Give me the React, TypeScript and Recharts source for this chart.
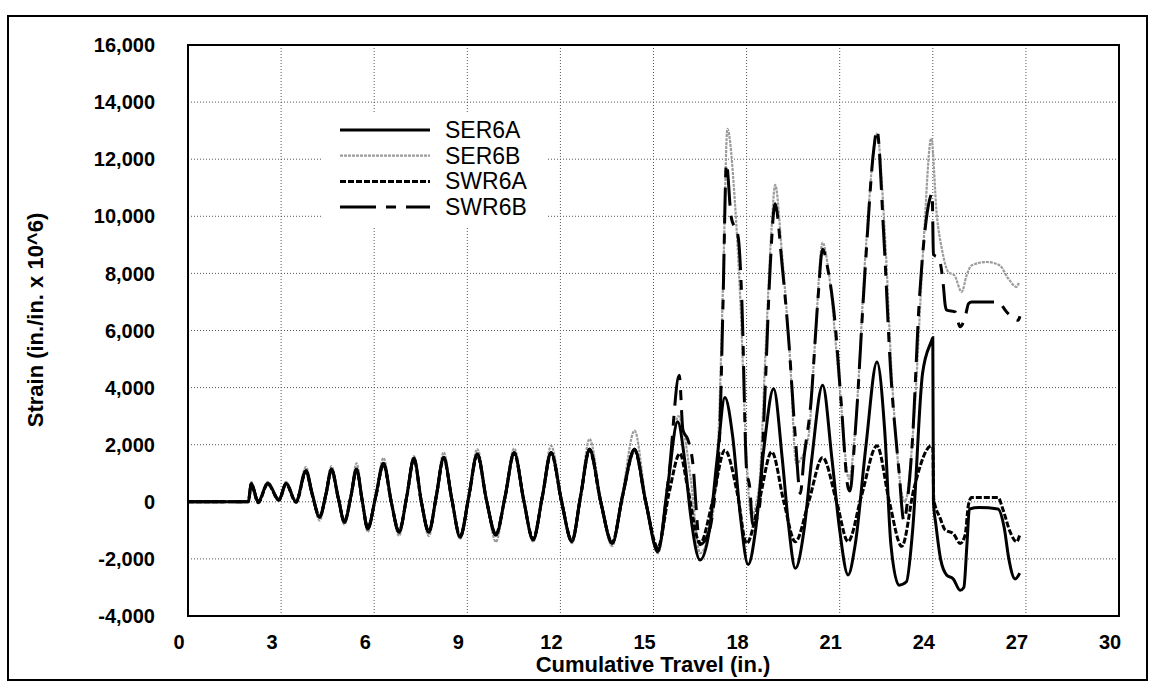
import { LineChart, Line, XAxis, YAxis, CartesianGrid, ReferenceArea } from 'recharts'

const FONT = '"Liberation Sans", Arial, sans-serif'

const xTicks = [0, 3, 6, 9, 12, 15, 18, 21, 24, 27, 30]
const yTicks = [-4000, -2000, 0, 2000, 4000, 6000, 8000, 10000, 12000, 14000, 16000]

// travel positions shared by all gauges up to ~15 in. (peaks, valleys and shoulders)
const earlyX = [
  0, 1.94, 2.04, 2.26, 2.57, 2.93, 3.16, 3.48, 3.8, 4.0,
  4.24, 4.45, 4.62, 4.85, 5.04, 5.25, 5.43, 5.62, 5.79, 6.05,
  6.3, 6.55, 6.8, 7.05, 7.28, 7.52, 7.76, 8.0, 8.24, 8.5,
  8.77, 9.05, 9.32, 9.62, 9.92, 10.22, 10.51, 10.82, 11.12, 11.42,
  11.7, 12.04, 12.37, 12.65, 12.94, 13.3, 13.67, 14.0, 14.39, 14.75,
  15.14,
]

const ser6aEarly = [
  0, 0, 640, 0, 650, 80, 650, 0, 1100, 300,
  -550, 300, 1150, 100, -720, 200, 1150, 0, -950, 200,
  1350, 0, -1070, 200, 1530, 0, -1070, 200, 1560, 100,
  -1240, 200, 1680, 50, -1170, 200, 1730, 50, -1340, 200,
  1730, 0, -1400, 200, 1850, 0, -1460, 200, 1850, 0,
  -1750,
]
const ser6bEarly = [
  0, 0, 700, 50, 700, 100, 700, 50, 1220, 350,
  -660, 350, 1250, 100, -800, 250, 1350, 50, -1050, 250,
  1530, 50, -1190, 250, 1600, 50, -1200, 250, 1730, 100,
  -1300, 250, 1850, 100, -1400, 250, 1870, 100, -1400, 250,
  1960, 100, -1450, 250, 2200, 100, -1550, 300, 2490, 100,
  -1800,
]
const swr6aEarly = [
  0, 0, 600, -30, 620, 50, 620, -20, 1050, 250,
  -500, 280, 1100, 80, -680, 180, 1120, -20, -900, 180,
  1300, -20, -1020, 180, 1480, -20, -1030, 180, 1520, 80,
  -1200, 180, 1640, 30, -1130, 180, 1700, 30, -1300, 180,
  1700, -20, -1360, 180, 1800, -20, -1420, 180, 1800, -20,
  -1600,
]
const swr6bEarly = [
  0, 0, 620, 0, 640, 60, 640, 0, 1080, 280,
  -520, 290, 1130, 90, -700, 190, 1140, 0, -930, 190,
  1330, 0, -1050, 190, 1510, 0, -1050, 190, 1550, 90,
  -1220, 190, 1660, 40, -1150, 190, 1720, 40, -1320, 190,
  1720, 0, -1380, 190, 1830, 0, -1440, 190, 1830, 0,
  -1650,
]

// after 15 in. each gauge goes its own way
const ser6aLateX = [
  15.45, 15.78, 16.0, 16.2, 16.5, 16.8, 17.05, 17.3, 17.55, 17.8,
  18.05, 18.3, 18.55, 18.87, 19.15, 19.35, 19.57, 19.85, 20.1, 20.45,
  20.75, 21.0, 21.27, 21.5, 21.85, 22.2, 22.45, 22.65, 22.91, 23.15,
  23.35, 23.67, 23.95, 24.0, 24.02, 24.1, 24.25, 24.45, 24.66, 24.88,
  25.0, 25.1, 25.18, 25.5, 26.1, 26.3, 26.45, 26.65, 26.75, 26.8,
]
const ser6aLateY = [
  500, 2800, 1500, -500, -2040, -1000, 1500, 3650, 2300, -500,
  -2200, -900, 1800, 3960, 1500, -800, -2330, -1000, 1500, 4080,
  1500, -1000, -2560, -1500, 2000, 4900, 2500, -1500, -2920, -2800,
  -1000, 4500, 5610, 5750, 0, -800, -2000, -2570, -2700, -3100,
  -3000, -1500, -250, -200, -250, -900, -2000, -2700, -2600, -2500,
]

const ser6bLateX = [
  15.5, 15.8, 16.0, 16.2, 16.5, 16.9, 17.1, 17.25, 17.38, 17.62,
  17.8, 18.0, 18.15, 18.4, 18.6, 18.8, 18.92, 19.14, 19.4, 19.6,
  19.75, 20.0, 20.2, 20.45, 20.65, 21.0, 21.3, 21.5, 21.85, 22.2,
  22.45, 22.7, 23.1, 23.4, 23.7, 23.95, 24.13, 24.29, 24.5, 24.7,
  24.93, 25.09, 25.25, 25.74, 26.16, 26.43, 26.7, 26.78,
]
const ser6bLateY = [
  800, 3000, 2300, 800, -1800, -500, 2500, 8000, 13060, 10550,
  7000, 1500, -500, 500, 5000, 9500, 11100, 8690, 5000, 1340,
  1500, 2330, 5500, 9080, 8000, 4000, 800, 2500, 9000, 12900,
  9500, 4000, 0, 3000, 9000, 12730, 10030, 8870, 8050, 7930,
  7350, 7930, 8280, 8400, 8280, 7820, 7530, 7700,
]

const swr6aLateX = [
  15.5, 15.85, 16.1, 16.5, 16.9, 17.3, 17.7, 18.0, 18.4, 18.81,
  19.2, 19.57, 20.0, 20.45, 20.9, 21.27, 21.7, 22.2, 22.6, 23.0,
  23.4, 23.95, 24.0, 24.03, 24.24, 24.4, 24.66, 24.88, 25.04, 25.15,
  25.25, 26.1, 26.27, 26.49, 26.7, 26.8,
]
const swr6aLateY = [
  300, 1690, 500, -1460, 0, 1810, 300, -1460, 0, 1750,
  0, -1400, 0, 1550, 0, -1390, 200, 1960, 0, -1560,
  500, 1960, 1900, 100, -580, -990, -1110, -1460, -1170, -100,
  150, 150, -300, -1050, -1400, -1170,
]

const swr6bLateX = [
  15.5, 15.83, 15.95, 16.1, 16.25, 16.5, 16.8, 17.0, 17.13, 17.24,
  17.35, 17.5, 17.73, 17.85, 18.0, 18.1, 18.2, 18.4, 18.6, 18.75,
  18.92, 19.14, 19.35, 19.57, 19.73, 19.85, 20.07, 20.29, 20.45, 20.62,
  20.84, 21.05, 21.27, 21.33, 21.49, 21.82, 22.09, 22.2, 22.42, 22.64,
  22.91, 23.07, 23.2, 23.35, 23.56, 23.73, 23.89, 23.98, 24.02, 24.2,
  24.34, 24.4, 24.45, 24.72, 24.88, 25.05, 25.15, 25.25, 26.06, 26.16,
  26.38, 26.75, 26.81,
]
const swr6bLateY = [
  1000, 4430, 2500, 2200, 1500, -1500, -1000, 500, 2270, 6940,
  11840, 10000, 9270, 6940, 1110, 520, -800, -300, 4000, 8000,
  10440, 8340, 5770, 2270, 290, 1550, 3440, 6960, 8850, 8140,
  6380, 3440, 490, 380, 2260, 8140, 12260, 13020, 9320, 4610,
  1080, -680, 200, 2260, 6960, 9320, 10550, 10800, 8670, 8520,
  7580, 6880, 6710, 6650, 6130, 6500, 6940, 7000, 7000, 6950,
  6650, 6360, 6500,
]

const toPoints = (xs: number[], ys: number[]) => xs.map((x, i) => ({ x, y: ys[i] }))

const series = [
  { name: 'SER6A', data: toPoints([...earlyX, ...ser6aLateX], [...ser6aEarly, ...ser6aLateY]), stroke: '#000', width: 3, dash: undefined },
  { name: 'SER6B', data: toPoints([...earlyX, ...ser6bLateX], [...ser6bEarly, ...ser6bLateY]), stroke: '#9c9c9c', width: 2.2, dash: '3 1' },
  { name: 'SWR6A', data: toPoints([...earlyX, ...swr6aLateX], [...swr6aEarly, ...swr6aLateY]), stroke: '#000', width: 3, dash: '6 2' },
  { name: 'SWR6B', data: toPoints([...earlyX, ...swr6bLateX], [...swr6bEarly, ...swr6bLateY]), stroke: '#000', width: 3, dash: '36 10 10 10' },
]

// grey first so the black traces sit on top of it
const drawOrder = ['SER6B', 'SWR6B', 'SWR6A', 'SER6A']

function LegendBox() {
  return (
    <svg
      width={225}
      height={115}
      style={{ position: 'absolute', left: 323, top: 113, background: '#fff' }}
    >
      {series.map((s, i) => {
        const y = 17 + i * 25.7
        return (
          <g key={s.name}>
            <line x1={17} x2={107} y1={y} y2={y} stroke={s.stroke} strokeWidth={s.width} strokeDasharray={s.dash} />
            <text x={122} y={y} dominantBaseline="central" fontSize={23} fontFamily={FONT} fill="#000">
              {s.name}
            </text>
          </g>
        )
      })}
    </svg>
  )
}

export default function App() {
  return (
    <div style={{ position: 'absolute', left: 0, top: 0, width: 1153, height: 681, background: '#fff' }}>
      <LineChart width={1153} height={681} margin={{ top: 45, right: 34, bottom: 25, left: 108 }}>
        <CartesianGrid stroke="#555" strokeDasharray="1 2" />
        <XAxis
          dataKey="x"
          type="number"
          domain={[0, 30]}
          ticks={xTicks}
          allowDuplicatedCategory={false}
          axisLine={false}
          tickLine={false}
          height={40}
          tickMargin={13}
          tick={{ fontSize: 20, fontWeight: 700, fill: '#000', fontFamily: FONT, dx: -9 }}
          label={() => (
            <text x={653} y={672} textAnchor="middle" fontSize={22} fontWeight={700} fontFamily={FONT} fill="#000">
              Cumulative Travel (in.)
            </text>
          )}
        />
        <YAxis
          type="number"
          domain={[-4000, 16000]}
          ticks={yTicks}
          axisLine={false}
          tickLine={false}
          width={80}
          tickMargin={27}
          tickFormatter={(v: number) => v.toLocaleString('en-US')}
          tick={{ fontSize: 20, fontWeight: 700, fill: '#000', fontFamily: FONT }}
          label={() => (
            <text
              x={35}
              y={320}
              transform="rotate(-90 35 320)"
              textAnchor="middle"
              dominantBaseline="central"
              fontSize={22}
              fontWeight={700}
              fontFamily={FONT}
              fill="#000"
            >
              Strain (in./in. x 10^6)
            </text>
          )}
        />
        {drawOrder.map((name) => {
          const s = series.find((d) => d.name === name)!
          return (
            <Line
              key={s.name}
              data={s.data}
              dataKey="y"
              name={s.name}
              type="monotone"
              stroke={s.stroke}
              strokeWidth={s.width}
              strokeDasharray={s.dash}
              dot={false}
              isAnimationActive={false}
            />
          )
        })}
        <ReferenceArea x1={0} x2={30} y1={-4000} y2={16000} fill="none" stroke="#000" strokeWidth={2} ifOverflow="visible" />
      </LineChart>
      <LegendBox />
      <div style={{ position: 'absolute', left: 7, top: 15, width: 1137, height: 662, border: '2px solid #000', pointerEvents: 'none' }} />
    </div>
  )
}
